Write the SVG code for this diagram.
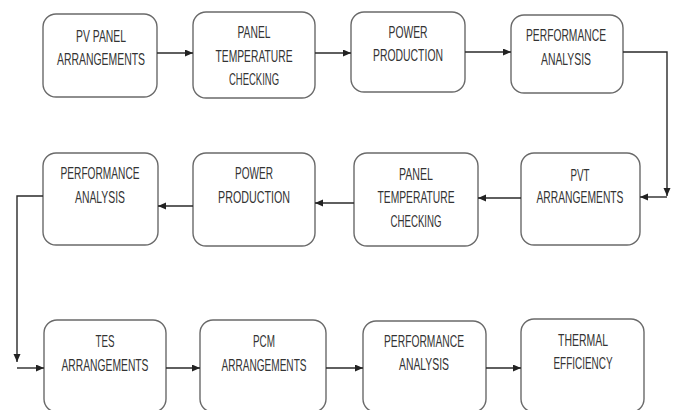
<svg xmlns="http://www.w3.org/2000/svg" width="676" height="410" viewBox="0 0 676 410">
<defs>
<marker id="ah" markerUnits="userSpaceOnUse" markerWidth="9" markerHeight="8" refX="8" refY="3.5" orient="auto">
<path d="M0,0 L8,3.5 L0,7 z" fill="#222"/>
</marker>
<style>
.box{fill:#fff;stroke:#6a6a6a;stroke-width:1.4}
.t{font-family:"Liberation Sans",Arial,sans-serif;font-size:16.5px;fill:#333;text-anchor:middle}
.c{fill:none;stroke:#2a2a2a;stroke-width:1.4}
</style>
</defs>
<rect width="676" height="410" fill="#fff"/>
<g id="n1"><rect class="box" x="43" y="14" width="114" height="83" rx="13"/>
<text class="t" x="101" y="42" textLength="50" lengthAdjust="spacingAndGlyphs">PV PANEL</text>
<text class="t" x="101" y="65" textLength="88" lengthAdjust="spacingAndGlyphs">ARRANGEMENTS</text></g>
<g id="n2"><rect class="box" x="193" y="12" width="122" height="86" rx="13"/>
<text class="t" x="254" y="38" textLength="33" lengthAdjust="spacingAndGlyphs">PANEL</text>
<text class="t" x="254" y="62" textLength="77" lengthAdjust="spacingAndGlyphs">TEMPERATURE</text>
<text class="t" x="254" y="85" textLength="50" lengthAdjust="spacingAndGlyphs">CHECKING</text></g>
<g id="n3"><rect class="box" x="351" y="12" width="114" height="80" rx="13"/>
<text class="t" x="408" y="38" textLength="39" lengthAdjust="spacingAndGlyphs">POWER</text>
<text class="t" x="408" y="61" textLength="70" lengthAdjust="spacingAndGlyphs">PRODUCTION</text></g>
<g id="n4"><rect class="box" x="511" y="15" width="112" height="78" rx="13"/>
<text class="t" x="566" y="41" textLength="80" lengthAdjust="spacingAndGlyphs">PERFORMANCE</text>
<text class="t" x="566" y="65" textLength="50" lengthAdjust="spacingAndGlyphs">ANALYSIS</text></g>
<g id="n5"><rect class="box" x="521" y="153" width="119" height="92" rx="13"/>
<text class="t" x="580" y="181" textLength="19" lengthAdjust="spacingAndGlyphs">PVT</text>
<text class="t" x="580" y="203" textLength="87" lengthAdjust="spacingAndGlyphs">ARRANGEMENTS</text></g>
<g id="n6"><rect class="box" x="354" y="153" width="124" height="93" rx="13"/>
<text class="t" x="416" y="180" textLength="34" lengthAdjust="spacingAndGlyphs">PANEL</text>
<text class="t" x="416" y="203" textLength="77" lengthAdjust="spacingAndGlyphs">TEMPERATURE</text>
<text class="t" x="416" y="227" textLength="51" lengthAdjust="spacingAndGlyphs">CHECKING</text></g>
<g id="n7"><rect class="box" x="193" y="153" width="122" height="93" rx="13"/>
<text class="t" x="254" y="179" textLength="38" lengthAdjust="spacingAndGlyphs">POWER</text>
<text class="t" x="254" y="203" textLength="72" lengthAdjust="spacingAndGlyphs">PRODUCTION</text></g>
<g id="n8"><rect class="box" x="43" y="153" width="115" height="92" rx="13"/>
<text class="t" x="100" y="179" textLength="79" lengthAdjust="spacingAndGlyphs">PERFORMANCE</text>
<text class="t" x="100" y="203" textLength="50" lengthAdjust="spacingAndGlyphs">ANALYSIS</text></g>
<g id="n9"><rect class="box" x="44" y="320" width="122" height="92" rx="13"/>
<text class="t" x="105" y="347" textLength="19" lengthAdjust="spacingAndGlyphs">TES</text>
<text class="t" x="105" y="371" textLength="87" lengthAdjust="spacingAndGlyphs">ARRANGEMENTS</text></g>
<g id="n10"><rect class="box" x="200" y="320" width="126" height="92" rx="13"/>
<text class="t" x="264" y="347" textLength="22" lengthAdjust="spacingAndGlyphs">PCM</text>
<text class="t" x="264" y="371" textLength="85" lengthAdjust="spacingAndGlyphs">ARRANGEMENTS</text></g>
<g id="n11"><rect class="box" x="363" y="321" width="123" height="91" rx="13"/>
<text class="t" x="424" y="347" textLength="80" lengthAdjust="spacingAndGlyphs">PERFORMANCE</text>
<text class="t" x="424" y="370" textLength="50" lengthAdjust="spacingAndGlyphs">ANALYSIS</text></g>
<g id="n12"><rect class="box" x="521" y="319" width="123" height="93" rx="13"/>
<text class="t" x="583" y="346" textLength="50" lengthAdjust="spacingAndGlyphs">THERMAL</text>
<text class="t" x="583" y="369" textLength="59" lengthAdjust="spacingAndGlyphs">EFFICIENCY</text></g>
<g id="connectors">
<path class="c" d="M157,53 H193" marker-end="url(#ah)"/>
<path class="c" d="M315,53 H351" marker-end="url(#ah)"/>
<path class="c" d="M465,52 H511" marker-end="url(#ah)"/>
<path class="c" d="M623,52 H667 V196" marker-end="url(#ah)"/>
<path class="c" d="M667,197 H640" marker-end="url(#ah)"/>
<path class="c" d="M521,198 H478" marker-end="url(#ah)"/>
<path class="c" d="M354,203 H315" marker-end="url(#ah)"/>
<path class="c" d="M193,206 H158" marker-end="url(#ah)"/>
<path class="c" d="M43,196 H17 V362" marker-end="url(#ah)"/>
<path class="c" d="M17,368 H44" marker-end="url(#ah)"/>
<path class="c" d="M166,368 H200" marker-end="url(#ah)"/>
<path class="c" d="M326,368 H363" marker-end="url(#ah)"/>
<path class="c" d="M486,368 H521" marker-end="url(#ah)"/>
</g>
</svg>
